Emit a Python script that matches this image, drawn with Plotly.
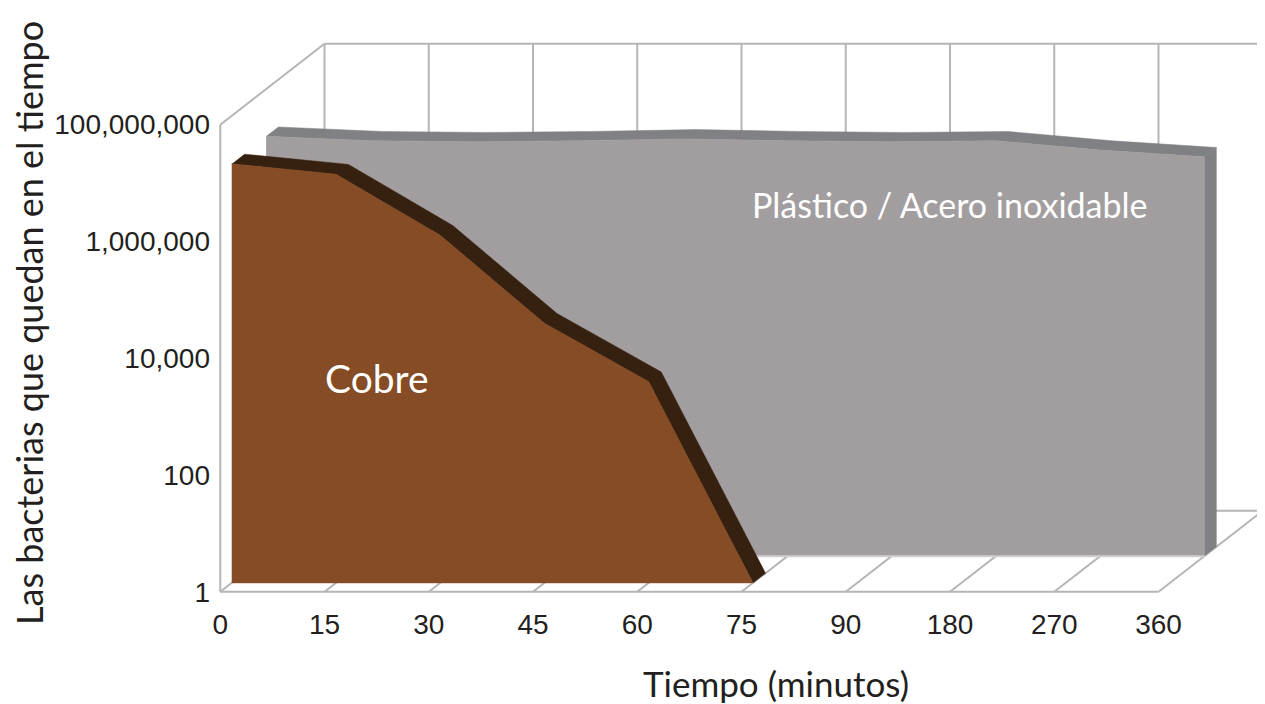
import plotly.graph_objects as go

# ---- data ----
categorias = ["0", "15", "30", "45", "60", "75", "90", "180", "270", "360"]
cobre = [1.5e7, 1.0e7, 9.0e5, 2.8e4, 2.8e3, 1]
plastico = [1.55e7, 1.3e7, 1.25e7, 1.3e7, 1.4e7, 1.3e7, 1.25e7, 1.3e7, 9.0e6, 6.9e6]
y_ticks = [1, 100, 1e4, 1e6, 1e8]
y_ticktext = ["1", "100", "10,000", "1,000,000", "100,000,000"]

# ---- pseudo-3D projection parameters ----
DX = 1.0      # full depth shift in category units
DY = 1.387    # full depth shift in decades
D_CU = (0.11, 0.23)
D_PL = (0.44, 0.555)
YMAX = 1e8

GRID = "#b5b5b7"
CU_FACE = "#854c25"
CU_TOP = "#36200f"
PL_FACE = "#a29e9f"
PL_TOP = "#808184"
FONT = "Lato"
TXT = "#231f20"


def proj(i, v, d):
    return i + d * DX, v * 10 ** (d * DY)


def face(vals, d):
    xs, ys = [], []
    for i, v in enumerate(vals):
        x, y = proj(i, v, d)
        xs.append(x); ys.append(y)
    n = len(vals) - 1
    x, y = proj(n, 1, d); xs.append(x); ys.append(y)
    x, y = proj(0, 1, d); xs.append(x); ys.append(y)
    return xs, ys


def top_band(vals, d0, d1):
    xs, ys = [], []
    for i, v in enumerate(vals):
        x, y = proj(i, v, d0)
        xs.append(x); ys.append(y)
    for i in range(len(vals) - 1, -1, -1):
        x, y = proj(i, vals[i], d1)
        xs.append(x); ys.append(y)
    return xs, ys


def side(vals, d0, d1):
    n = len(vals) - 1
    pts = [proj(n, 1, d0), proj(n, vals[n], d0), proj(n, vals[n], d1), proj(n, 1, d1)]
    return [p[0] for p in pts], [p[1] for p in pts]


n_cat = len(categorias)
fig = go.Figure()

# walls and floor frame
gx, gy = [], []
def seg(a, b):
    gx.extend([a[0], b[0], None]); gy.extend([a[1], b[1], None])

seg(proj(0, 1, 0), proj(0, YMAX, 0))                 # left front vertical
seg(proj(0, YMAX, 0), proj(0, YMAX, 1))              # left top diagonal
seg(proj(0, YMAX, 1), proj(n_cat - 1, YMAX, 1))      # back top
seg(proj(0, 1, 1), proj(n_cat - 1, 1, 1))            # back floor
seg(proj(0, 1, 0), proj(n_cat - 1, 1, 0))            # front floor
for i in range(n_cat):
    seg(proj(i, 1, 1), proj(i, YMAX, 1))             # back wall verticals
    seg(proj(i, 1, 0), proj(i, 1, 1))                # floor diagonals
fig.add_trace(go.Scatter(x=gx, y=gy, mode="lines", line=dict(color=GRID, width=2),
                         hoverinfo="skip", cliponaxis=False))

# plastic / stainless steel
x, y = top_band(plastico, *D_PL)
fig.add_trace(go.Scatter(x=x, y=y, fill="toself", fillcolor=PL_TOP, mode="lines",
                         line=dict(color=PL_TOP, width=0.5), hoverinfo="skip"))
x, y = side(plastico, *D_PL)
fig.add_trace(go.Scatter(x=x, y=y, fill="toself", fillcolor=PL_TOP, mode="lines",
                         line=dict(color=PL_TOP, width=0.5), hoverinfo="skip"))
x, y = face(plastico, D_PL[0])
fig.add_trace(go.Scatter(x=x, y=y, fill="toself", fillcolor=PL_FACE, mode="lines",
                         line=dict(color=PL_FACE, width=0.5), hoverinfo="skip"))
b0 = proj(0, 1, D_PL[0]); b1 = proj(n_cat - 1, 1, D_PL[0])
fig.add_trace(go.Scatter(x=[b0[0], b1[0]], y=[b0[1], b1[1]], mode="lines",
                         line=dict(color="#cfcfd1", width=2), hoverinfo="skip"))

# copper
x, y = top_band(cobre, *D_CU)
fig.add_trace(go.Scatter(x=x, y=y, fill="toself", fillcolor=CU_TOP, mode="lines",
                         line=dict(color=CU_TOP, width=0.5), hoverinfo="skip"))
x, y = face(cobre, D_CU[0])
fig.add_trace(go.Scatter(x=x, y=y, fill="toself", fillcolor=CU_FACE, mode="lines",
                         line=dict(color=CU_FACE, width=0.5), hoverinfo="skip"))

# page body has an 8px default margin, so the figure is 8px smaller
fig.update_layout(
    width=1257, height=696,
    margin=dict(l=211, r=1, t=32, b=111, autoexpand=False),
    paper_bgcolor="white", plot_bgcolor="white",
    showlegend=False,
    xaxis=dict(range=[-0.012, 10.012], tickmode="array", automargin=False,
               tickvals=list(range(n_cat)), ticktext=categorias,
               showgrid=False, zeroline=False, showline=False,
               ticks="", ticklabelstandoff=12,
               tickfont=dict(family="Liberation Sans", size=28, color=TXT)),
    yaxis=dict(type="log", range=[-0.02, 9.45], tickmode="array", automargin=False,
               tickvals=y_ticks, ticktext=y_ticktext,
               showgrid=False, zeroline=False, showline=False,
               ticks="", ticklabelstandoff=8,
               tickfont=dict(family="Liberation Sans", size=28, color=TXT)),
    annotations=[
        dict(text="Cobre", x=1.505, y=3.66, xref="x", yref="y", showarrow=False,
             font=dict(family=FONT, size=39, color="white")),
        dict(text="Plástico / Acero inoxidable", x=7.0, y=6.63, xref="x", yref="y",
             showarrow=False, font=dict(family=FONT, size=34, color="white")),
        dict(text="Las bacterias que quedan en el tiempo", x=-0.182, y=0.488,
             xref="paper", yref="paper", xanchor="center", yanchor="middle",
             showarrow=False, textangle=-90,
             font=dict(family=FONT, size=36, color=TXT)),
        dict(text="Tiempo (minutos)", x=0.533, y=-0.162, xref="paper", yref="paper",
             xanchor="center", yanchor="middle",
             showarrow=False, font=dict(family=FONT, size=35, color=TXT)),
    ],
)

fig.write_html("out.html")
